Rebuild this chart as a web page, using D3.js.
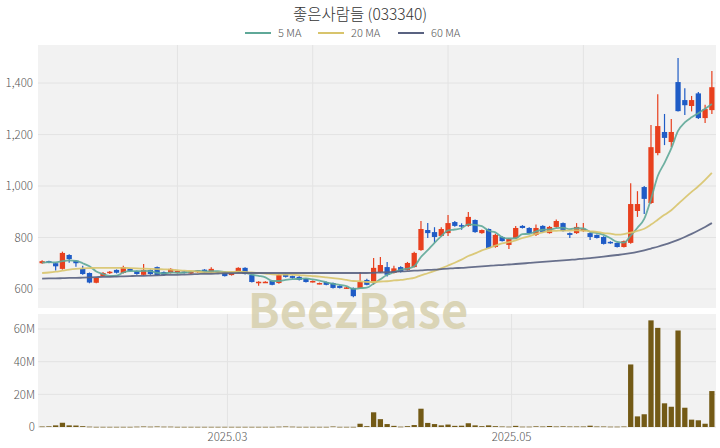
<!DOCTYPE html>
<html><head><meta charset="utf-8">
<script src="https://cdn.jsdelivr.net/npm/d3@7"></script>
<style>
body{margin:0;background:#fff;}
text{font-family:"Noto Sans CJK KR","Noto Sans",sans-serif;}
</style></head>
<body><svg id="c" width="720" height="448"></svg>
<script>
const title = "좋은사람들 (033340)";
const dates = [
"2025-01-16","2025-01-17","2025-01-20","2025-01-21","2025-01-22","2025-01-23","2025-01-24","2025-01-31",
"2025-02-03","2025-02-04","2025-02-05","2025-02-06","2025-02-07","2025-02-10","2025-02-11","2025-02-12","2025-02-13","2025-02-14","2025-02-17","2025-02-18","2025-02-19","2025-02-20","2025-02-21","2025-02-24","2025-02-25","2025-02-26","2025-02-27","2025-02-28",
"2025-03-04","2025-03-05","2025-03-06","2025-03-07","2025-03-10","2025-03-11","2025-03-12","2025-03-13","2025-03-14","2025-03-17","2025-03-18","2025-03-19","2025-03-20","2025-03-21","2025-03-24","2025-03-25","2025-03-26","2025-03-27","2025-03-28","2025-03-31",
"2025-04-01","2025-04-02","2025-04-03","2025-04-04","2025-04-07","2025-04-08","2025-04-09","2025-04-10","2025-04-11","2025-04-14","2025-04-15","2025-04-16","2025-04-17","2025-04-18","2025-04-21","2025-04-22","2025-04-23","2025-04-24","2025-04-25","2025-04-28","2025-04-29","2025-04-30",
"2025-05-02","2025-05-07","2025-05-08","2025-05-09","2025-05-12","2025-05-13","2025-05-14","2025-05-15","2025-05-16","2025-05-19","2025-05-20","2025-05-21","2025-05-22","2025-05-23","2025-05-26","2025-05-27","2025-05-28","2025-05-29","2025-05-30",
"2025-06-02","2025-06-04","2025-06-05","2025-06-09","2025-06-10","2025-06-11","2025-06-12","2025-06-13","2025-06-16","2025-06-17","2025-06-18"];
const open = [700,708,700,678,732,710,678,662,624,650, 662,674,662,678,670,655,674,685,666,662, 662,668,660,665,675,666,668,666,654,666,
682,654,623,627,631,623,658,650,647,639, 627,620,627,623,612,602,604,604,635,623, 666,685,662,685,674,685,751,829,821,806,
817,860,848,845,868,817,833,763,802,771, 798,845,837,810,845,817,841,856,817,817, 825,817,810,802,783,779,763,779,903,996,
934,1128,1210,1171,1404,1334,1311,1360,1264,1295];
const high = [712,710,702,745,735,712,690,664,645,666, 670,676,690,680,672,697,676,687,668,680, 672,670,670,674,677,684,670,668,664,684,
684,656,630,630,633,658,660,652,649,641, 633,625,629,625,614,608,606,666,640,720, 724,705,690,688,705,745,864,856,840,840,
887,864,855,899,870,831,835,815,805,798, 845,848,840,850,848,845,870,858,819,856, 856,819,812,805,785,781,788,1011,980,1000,
1237,1357,1280,1260,1497,1380,1350,1365,1316,1447];
const low = [698,700,672,675,702,686,655,622,622,648, 658,660,660,668,655,652,655,652,652,660, 660,660,658,663,664,664,660,648,652,664,
656,625,612,625,614,620,645,640,633,625, 625,618,614,602,602,600,568,602,614,616, 662,648,660,664,672,683,748,798,780,804,
806,842,830,842,818,815,757,760,784,755, 796,835,815,806,819,815,838,823,798,814, 822,790,796,773,776,761,761,776,880,891,
930,1120,1159,1152,1290,1276,1290,1260,1245,1280];
const close = [708,702,688,740,716,700,658,625,643,662, 667,663,685,670,658,674,658,654,655,678, 670,662,668,672,666,678,662,650,662,682,
658,627,628,628,616,654,647,643,635,627, 631,623,616,604,604,606,572,627,616,682, 693,655,680,666,701,740,833,817,802,833,
856,845,843,880,821,829,759,810,786,794, 837,837,817,837,821,841,864,825,810,841, 833,802,798,775,779,763,786,930,930,950,
1151,1233,1187,1210,1291,1314,1334,1264,1299,1384];
const volumeM = [0.3,0.4,1.0,2.6,1.0,0.9,0.5,0.2,0.1,0.1, 0.1,0.1,0.1,0.1,0.2,0.3,0.2,0.3,0.2,0.2, 0.1,0.1,0.1,0.1,0.1,0.1,0.1,0.1,0.1,0.1,
0.1,0.1,0.1,0.1,0.1,0.2,0.3,0.2,0.1,0.1, 0.1,0.1,0.1,0.3,0.1,0.1,0.1,2.0,0.5,9.0, 4.8,1.8,0.7,0.2,0.5,1.2,11.2,2.5,1.8,1.0,
1.5,0.7,0.8,2.3,1.0,0.5,1.0,0.5,0.3,0.2, 0.7,0.2,0.2,0.4,0.3,0.6,0.3,0.4,0.3,0.3, 0.3,0.8,0.3,0.3,0.2,0.2,0.3,38.3,6.5,7.8,
65.3,60.7,14.5,12.4,59.1,11.8,4.5,4.1,2.0,22.0];
const ma5 = [702,704,703,708,711,709,700,688,668,658, 651,652,664,669,669,670,669,663,660,664, 663,664,667,670,668,669,669,666,664,667,
663,656,651,645,631,631,635,638,639,641, 637,632,626,620,616,611,600,603,605,621, 638,655,665,675,679,688,724,751,779,805,
828,831,836,851,849,844,826,820,801,796, 797,813,814,824,830,831,836,838,832,836, 835,822,817,810,797,783,780,807,838,872,
949,1039,1090,1146,1214,1247,1267,1283,1300,1319];
const ma20 = [662,664,667,671,675,678,680,681,682,682, 682,682,682,681,680,679,678,677,676,675, 673,671,670,667,664,663,664,665,666,667,
666,664,662,660,657,656,656,655,654,652, 650,648,645,642,639,635,631,630,627,627, 629,630,633,635,639,643,653,661,670,680,
691,702,714,728,738,750,759,768,777,782, 789,798,805,814,820,825,826,827,827,828, 827,824,822,817,815,811,813,819,826,834,
850,869,888,906,930,954,977,999,1024,1051];
const ma60 = [640,641,641,642,643,643,644,645,646,647, 647,648,649,650,651,651,652,653,654,655, 655,656,657,658,659,659,660,661,661,662,
662,662,662,662,662,662,662,662,662,662, 662,662,662,662,662,662,662,662,662,663, 664,665,666,668,669,671,672,674,675,677,
679,681,682,684,686,688,690,692,693,695, 697,699,701,703,705,707,709,711,713,715, 718,720,723,726,729,732,735,739,744,750,
757,764,772,781,791,802,814,827,841,856];
const priceTicks = [600,800,1000,1200,1400];
const volTicks = [0,20,40,60];
const xTickLabels = ["2025.03","2025.05"];
const maNames = ["5 MA","20 MA","60 MA"];
const maColors = ["#5fa898","#d8c46c","#596281"];

const svg = d3.select("#c");
const L = 38, R = 716;
const pTop = 45, pBot = 308, vTop = 314, vBot = 427;
const x = d3.scaleBand().domain(d3.range(dates.length)).range([L, R]).padding(0.22);
const xc = i => x(i) + x.bandwidth()/2;
const step = x.step();
const y = d3.scaleLinear().domain([526, 1548]).range([pBot, pTop]);
const yv = d3.scaleLinear().domain([0, 69.2]).range([vBot, vTop]);

svg.append("rect").attr("x",L).attr("y",pTop).attr("width",R-L).attr("height",pBot-pTop).attr("fill","#f2f2f2");
svg.append("rect").attr("x",L).attr("y",vTop).attr("width",R-L).attr("height",vBot-vTop).attr("fill","#f2f2f2");

const gp = svg.append("g");
gp.selectAll(".hg").data(priceTicks).join("line").attr("x1",L).attr("x2",R)
  .attr("y1",d=>y(d)).attr("y2",d=>y(d)).attr("stroke","#e3e3e3").attr("stroke-width",1);
gp.selectAll(".vg").data([20,40,60,80]).join("line").attr("y1",pTop).attr("y2",pBot)
  .attr("x1",d=>xc(d)).attr("x2",d=>xc(d)).attr("stroke","#e3e3e3").attr("stroke-width",1);

const tickIdx = xTickLabels.map(lbl => dates.findIndex(d => d.slice(0,7) === lbl.replace(".","-")));
const gv = svg.append("g");
gv.selectAll(".hg").data(volTicks).join("line").attr("x1",L).attr("x2",R)
  .attr("y1",d=>yv(d)).attr("y2",d=>yv(d)).attr("stroke","#e3e3e3");
gv.selectAll(".vg").data(tickIdx).join("line").attr("y1",vTop).attr("y2",vBot)
  .attr("x1",d=>L + d*step).attr("x2",d=>L + d*step).attr("stroke","#e3e3e3");

svg.append("text").attr("x",358).attr("y",328).attr("text-anchor","middle")
  .attr("font-family","Lato, 'Noto Sans', sans-serif").attr("font-weight",700).attr("font-size",47)
  .attr("fill","#d6cfac").attr("fill-opacity",0.85).text("BeezBase");

const ya = d3.axisLeft(y).tickValues(priceTicks).tickFormat(d3.format(",")).tickSize(0).tickPadding(5);
const ga = svg.append("g").attr("transform",`translate(${L},0)`).call(ya);
const yva = d3.axisLeft(yv).tickValues(volTicks).tickFormat(d => d===0 ? "0" : d+"M").tickSize(0).tickPadding(3);
const gb = svg.append("g").attr("transform",`translate(${L},0)`).call(yva);
[ga,gb].forEach(g=>{g.select(".domain").remove(); g.selectAll("text").attr("fill","#555").attr("font-size",11.5).attr("font-weight",300).style("font-family","'Noto Sans CJK KR',sans-serif");});

svg.append("g").selectAll("text").data(tickIdx).join("text")
  .attr("x",d=>L + d*step).attr("y",441).attr("text-anchor","middle")
  .attr("fill","#555").attr("font-size",11.5).attr("font-weight",300)
  .text((d,i)=>xTickLabels[i]);

svg.append("g").selectAll("rect").data(volumeM).join("rect")
  .attr("x",(d,i)=>x(i)).attr("width",x.bandwidth())
  .attr("y",d=>yv(d)).attr("height",d=>Math.max(0.6, yv(0)-yv(d)))
  .attr("fill","#735a16");

const up = "#e8401e", down = "#1f5cc6";
const cg = svg.append("g");
const idx = d3.range(dates.length);
cg.selectAll("line").data(idx).join("line")
  .attr("x1",i=>xc(i)).attr("x2",i=>xc(i))
  .attr("y1",i=>y(high[i])).attr("y2",i=>y(low[i]))
  .attr("stroke",i=>close[i]>=open[i]?up:down).attr("stroke-width",1.2);
cg.selectAll("rect").data(idx).join("rect")
  .attr("x",i=>x(i)).attr("width",x.bandwidth())
  .attr("y",i=>y(Math.max(open[i],close[i])))
  .attr("height",i=>Math.max(1.5, Math.abs(y(open[i])-y(close[i]))))
  .attr("fill",i=>close[i]>=open[i]?up:down);

const line = d3.line().x((d,i)=>xc(i)).y(d=>y(d)).curve(d3.curveMonotoneX);
[ma5,ma20,ma60].forEach((arr,k)=>{
  svg.append("path").datum(arr).attr("d",line).attr("fill","none")
    .attr("stroke",maColors[k]).attr("stroke-width",1.8).attr("stroke-opacity",0.9);
});

svg.append("text").attr("x",360).attr("y",20).attr("text-anchor","middle")
  .attr("font-size",15.5).attr("fill","#333").attr("font-weight",300).text(title);
const legX = [245, 318, 398];
const lg = svg.append("g");
maNames.forEach((n,k)=>{
  lg.append("line").attr("x1",legX[k]).attr("x2",legX[k]+26).attr("y1",33).attr("y2",33)
    .attr("stroke",maColors[k]).attr("stroke-width",2);
  lg.append("text").attr("x",legX[k]+33).attr("y",37).attr("font-size",11).attr("fill","#555")
    .attr("font-weight",300).text(n);
});
</script></body></html>
